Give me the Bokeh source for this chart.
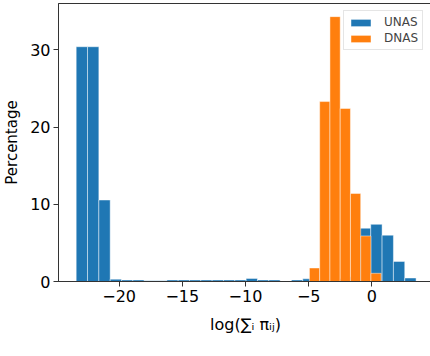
import numpy as np
from bokeh.plotting import figure
from bokeh.models import ColumnDataSource, Range1d, FixedTicker, Legend, LegendItem
from bokeh.embed import file_html
from bokeh.resources import INLINE

# ---- data ----
unas_edges = np.linspace(-23.4, 3.5, 31)
unas_pct = [30.4, 30.4, 10.55, 0.3, 0.2, 0.2, 0.1, 0.1, 0.2, 0.2, 0.2, 0.2, 0.2, 0.2, 0.2,
            0.4, 0.2, 0.2, 0.05, 0.2, 0.35, 0.2, 0.3, 0.4, 0.6, 6.9, 7.4, 6.0, 2.6, 0.45]
dnas_edges = np.linspace(-4.94, 0.74, 8)
dnas_pct = [1.75, 23.3, 34.3, 22.4, 11.4, 5.9, 1.06]
x_ticks = [-20, -15, -10, -5, 0]
x_tick_labels = ["\u221220", "\u221215", "\u221210", "\u22125", "0"]
y_ticks = [0, 10, 20, 30]
series_names = ["UNAS", "DNAS"]
x_label = "log(\u2211\u1d62 \u03c0\u1d62\u2c7c)"
y_label = "Percentage"

BLUE = "#1f77b4"
ORANGE = "#ff7f0e"
FONT = "DejaVu Sans"

unas_src = ColumnDataSource(dict(left=unas_edges[:-1], right=unas_edges[1:],
                                 top=unas_pct, bottom=[0] * len(unas_pct)))
dnas_src = ColumnDataSource(dict(left=dnas_edges[:-1], right=dnas_edges[1:],
                                 top=dnas_pct, bottom=[0] * len(dnas_pct)))

p = figure(width=430, height=356, frame_width=374, frame_height=278,
           min_border_left=54, min_border_right=2, min_border_top=3, min_border_bottom=75,
           x_range=Range1d(-24.8, 4.8), y_range=Range1d(0, 36.0),
           output_backend="svg", toolbar_location=None)

r1 = p.quad(left="left", right="right", top="top", bottom="bottom", source=unas_src,
            fill_color=BLUE, line_color="white", line_alpha=0.45, line_width=1)
r2 = p.quad(left="left", right="right", top="top", bottom="bottom", source=dnas_src,
            fill_color=ORANGE, line_color="white", line_alpha=0.45, line_width=1)

p.xgrid.visible = False
p.ygrid.visible = False
p.outline_line_color = "#333333"
p.outline_line_width = 1

for ax in (p.xaxis[0], p.yaxis[0]):
    ax.axis_line_color = "#333333"
    ax.major_tick_line_color = "#333333"
    ax.major_tick_out = 5
    ax.major_tick_in = 0
    ax.minor_tick_out = 0
    ax.minor_tick_in = 0
    ax.major_label_text_font = FONT
    ax.major_label_text_font_size = "16px"
    ax.major_label_text_color = "black"
    ax.major_label_standoff = 3
    ax.axis_label_text_font = FONT
    ax.axis_label_text_font_style = "normal"
    ax.axis_label_text_color = "black"

p.xaxis.ticker = FixedTicker(ticks=x_ticks)
p.xaxis.major_label_overrides = {t: s for t, s in zip(x_ticks, x_tick_labels)}
p.yaxis.ticker = FixedTicker(ticks=y_ticks)

p.yaxis.axis_label = y_label
p.yaxis.axis_label_text_font_size = "15px"
p.yaxis.axis_label_standoff = 6

p.xaxis.axis_label = x_label
p.xaxis.axis_label_text_font_size = "16px"
p.xaxis.axis_label_standoff = 10

legend = Legend(items=[LegendItem(label=series_names[0], renderers=[r1]),
                       LegendItem(label=series_names[1], renderers=[r2])],
                location=(285, 231))
legend.label_text_font = FONT
legend.label_text_font_size = "12px"
legend.label_height = 13
legend.glyph_height = 9
legend.glyph_width = 25
legend.label_standoff = 11
legend.spacing = 2
legend.padding = 4
legend.margin = 0
legend.border_line_color = "#cccccc"
legend.border_line_width = 1
legend.background_fill_alpha = 0.8
p.add_layout(legend, "center")

open("out.html", "w").write(file_html(p, INLINE))
